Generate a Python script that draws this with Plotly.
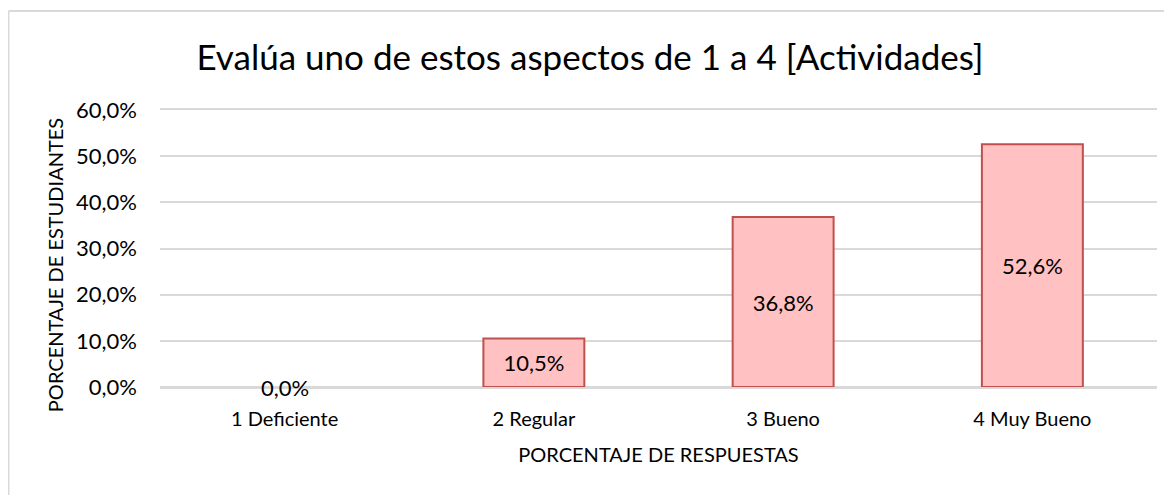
import plotly.graph_objects as go

categories = ["1 Deficiente", "2 Regular", "3 Bueno", "4 Muy Bueno"]
values = [0.0, 10.5, 36.8, 52.6]
y_ticks = [0, 10, 20, 30, 40, 50, 60]
title_text = "Evalúa uno de estos aspectos de 1 a 4 [Actividades]"
x_title = "PORCENTAJE DE RESPUESTAS"
y_title = "PORCENTAJE DE ESTUDIANTES"

FONT = "Lato, Carlito, Calibri, sans-serif"


def pct(v):
    return f"{v:.1f}".replace(".", ",") + "%"


fig = go.Figure()
fig.add_trace(go.Bar(
    x=categories,
    y=values,
    marker=dict(color="#FFC1C1",
                line=dict(color="#C0504D", width=[0 if v == 0 else 2 for v in values])),
    text=[pct(v) if v > 0 else "" for v in values],
    textposition="inside",
    insidetextanchor="middle",
    textfont=dict(family=FONT, size=22, color="#000000"),
    width=0.405,
    showlegend=False,
    hoverinfo="skip",
))

for c, v in zip(categories, values):
    if v == 0:
        fig.add_annotation(x=c, y=v, text=pct(v), showarrow=False, yanchor="middle",
                           font=dict(family=FONT, size=22, color="#000000"))

# y-axis title as annotation (centred like the original, slightly below plot centre)
fig.add_annotation(xref="paper", yref="paper", x=-0.1053, y=0.44, text=y_title,
                   textangle=-90, showarrow=False, xanchor="center", yanchor="middle",
                   font=dict(family=FONT, size=20, color="#000000"))

# chart outer border (top and left only visible)
fig.add_shape(type="line", xref="paper", yref="paper", x0=-0.152, x1=1.2, y0=1.357, y1=1.357,
              line=dict(color="#D9D9D9", width=2))
fig.add_shape(type="line", xref="paper", yref="paper", x0=-0.152, x1=-0.152, y0=1.357, y1=-0.6,
              line=dict(color="#D9D9D9", width=2))

fig.update_layout(
    width=1164, height=487,
    margin=dict(l=152, r=15, t=102, b=108),
    paper_bgcolor="white", plot_bgcolor="white",
    separators=",.",
    font=dict(family=FONT, size=20, color="#000000"),
    title=dict(text=title_text, x=0.5, xanchor="center", y=0.897, yanchor="middle",
               font=dict(family=FONT, size=35, color="#000000")),
    xaxis=dict(title=dict(text=x_title, font=dict(size=20), standoff=19),
               showgrid=False, showline=True, mirror=True, linecolor="#D9D9D9", linewidth=1.5,
               ticks="", ticklabelstandoff=13, tickfont=dict(size=20)),
    yaxis=dict(range=[0, 60], tickvals=y_ticks,
               ticktext=[pct(t) for t in y_ticks],
               showgrid=True, gridcolor="#D9D9D9", gridwidth=1.5,
               zeroline=True, zerolinecolor="#D9D9D9", zerolinewidth=1.5,
               showline=False, ticks="", ticklabelstandoff=22, tickfont=dict(size=22)),
)

fig.write_html("out.html")
